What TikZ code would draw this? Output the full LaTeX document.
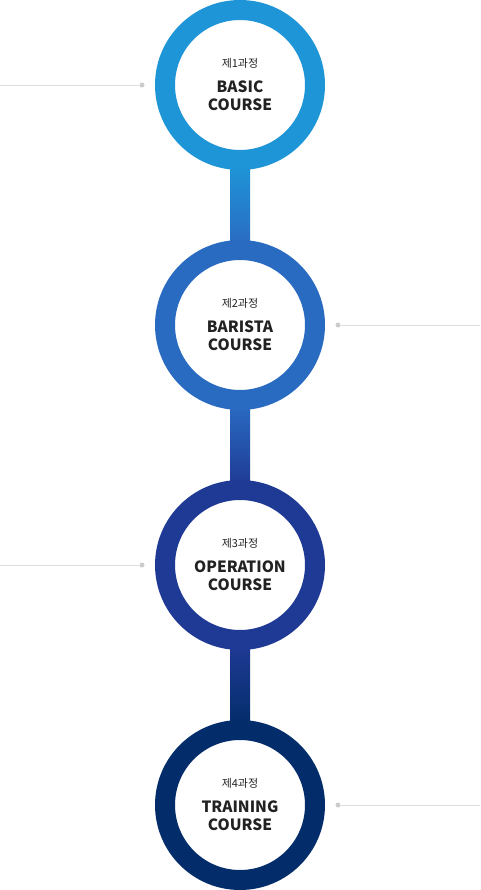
\documentclass[tikz,border=0pt]{standalone}
\usepackage{fontspec}
\setmainfont{Noto Sans CJK KR}
\usetikzlibrary{calc,backgrounds}
\definecolor{cA}{HTML}{1E95D7}
\definecolor{cB}{HTML}{2A6BC2}
\definecolor{cC}{HTML}{1F3A94}
\definecolor{cD}{HTML}{032D6A}
\definecolor{txt}{HTML}{222222}
\definecolor{lineg}{HTML}{DDDDDD}
\definecolor{dotg}{HTML}{CCCCCC}
\tikzset{
  ring/.style={circle, minimum size=150pt, inner sep=0pt, line width=20pt, fill=white, draw=#1, align=center, text=txt,
    font=\fontsize{15.5}{18}\selectfont\bfseries},
  sideline/.style={draw=lineg, line width=0.9pt},
  sidedot/.style={circle, fill=dotg, minimum size=5pt, inner sep=0pt},
}
\newcommand{\coursetxt}[3]{{\fontsize{11}{13}\selectfont\mdseries #1}\\[7pt]#2\\#3}
\begin{document}
\begin{tikzpicture}[x=1pt,y=-1pt]
\useasboundingbox (0,0) rectangle (480,890);
\node[ring=cA] (c1) at (240,85) {\coursetxt{제1과정}{BASIC}{COURSE}};
\node[ring=cB] (c2) at (240,325) {\coursetxt{제2과정}{BARISTA}{COURSE}};
\node[ring=cC] (c3) at (240,565) {\coursetxt{제3과정}{OPERATION}{COURSE}};
\node[ring=cD] (c4) at (240,805) {\coursetxt{제4과정}{TRAINING}{COURSE}};
\begin{scope}[on background layer]
\fill[white] (0,0) rectangle (480,890);
\shade[top color=cA, bottom color=cB] ($(c1.south)+(-10,-5)$) rectangle ($(c2.north)+(10,5)$);
\shade[top color=cB, bottom color=cC] ($(c2.south)+(-10,-5)$) rectangle ($(c3.north)+(10,5)$);
\shade[top color=cC, bottom color=cD] ($(c3.south)+(-10,-5)$) rectangle ($(c4.north)+(10,5)$);
\end{scope}
\node[sidedot] (d1) at (142,85) {};
\node[sidedot] (d2) at (338,325) {};
\node[sidedot] (d3) at (142,565) {};
\node[sidedot] (d4) at (338,805) {};
\coordinate (e1) at (0,85);
\coordinate (e2) at (480,325);
\coordinate (e3) at (0,565);
\coordinate (e4) at (480,805);
\draw[sideline] (e1) -- (d1);
\draw[sideline] (d2) -- (e2);
\draw[sideline] (e3) -- (d3);
\draw[sideline] (d4) -- (e4);
\end{tikzpicture}
\end{document}
